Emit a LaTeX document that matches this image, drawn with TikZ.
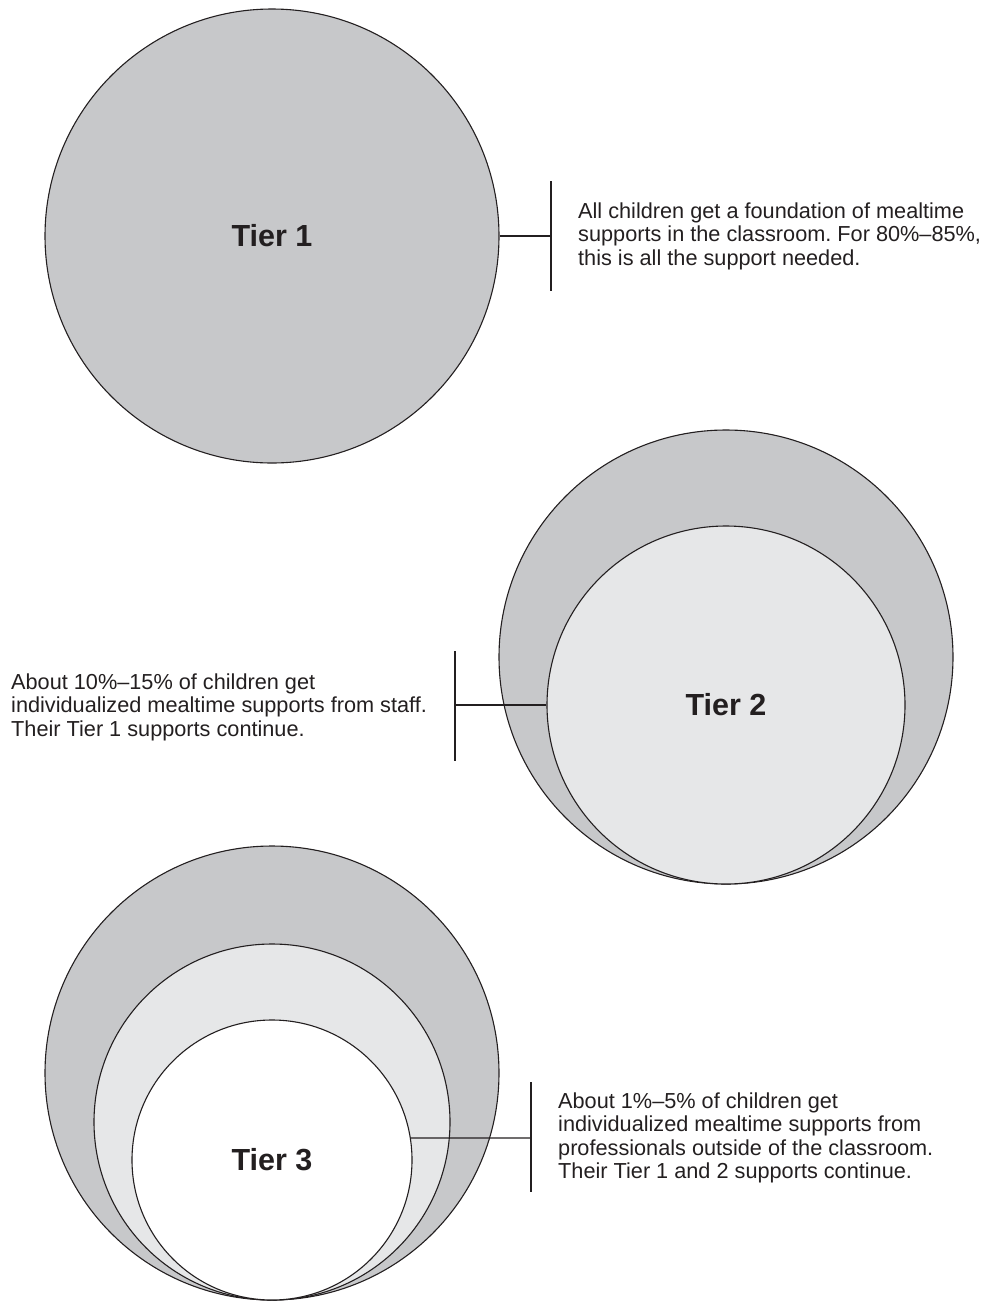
\documentclass[tikz,border=0pt]{standalone}
\usepackage{fontspec}
\setmainfont{Liberation Sans}
\frenchspacing
\definecolor{darkfill}{HTML}{C7C8CA}
\definecolor{lightfill}{HTML}{E6E7E8}
\definecolor{ink}{HTML}{231F20}
\tikzset{
  ring/.style={circle, draw=ink, line width=1.1pt, inner sep=0pt, minimum size=#1},
  tierlabel/.style={font=\fontsize{30.5}{36}\selectfont\bfseries, text=ink},
  desc/.style={anchor=west, align=left, inner sep=0pt, text=ink, font=\fontsize{21.7}{23.5}\selectfont},
  leader/.style={draw=ink, line width=1.1pt}
}
\begin{document}
\begin{tikzpicture}[x=1pt, y=-1pt]
\useasboundingbox (0,0) rectangle (986,1302);
% Tier 1
\node[ring=454pt, fill=darkfill, tierlabel] (t1) at (272,236) {Tier 1};
\coordinate (t1j) at (551,236);
\coordinate (t1a) at (551,181);
\coordinate (t1b) at (551,291);
\draw[leader] (t1.east) -- (t1j);
\draw[leader] (t1a) -- (t1b);
\node[desc] (d1) at (578,236) {All children get a foundation of mealtime\\supports in the classroom. For 80\%–85\%,\\this is all the support needed.};
% Tier 2
\node[ring=454pt, fill=darkfill] (t2out) at (726,657) {};
\node[ring=358pt, fill=lightfill, tierlabel] (t2in) at (726,705) {Tier 2};
\coordinate (t2j) at (455,705);
\coordinate (t2a) at (455,651);
\coordinate (t2b) at (455,761);
\draw[leader] (t2in.west) -- (t2j);
\draw[leader] (t2a) -- (t2b);
\node[desc] (d2) at (11,707) {About 10\%–15\% of children get\\individualized mealtime supports from staff.\\Their Tier 1 supports continue.};
% Tier 3
\node[ring=454pt, fill=darkfill] (t3out) at (272,1073) {};
\node[ring=356pt, fill=lightfill] (t3mid) at (272,1122) {};
\node[ring=280pt, fill=white, tierlabel] (t3in) at (272,1160) {Tier 3};
\coordinate (t3j) at (531,1138);
\coordinate (t3a) at (531,1082);
\coordinate (t3b) at (531,1192);
\draw[leader] (t3in.9) -- (t3j);
\draw[leader] (t3a) -- (t3b);
\node[desc] (d3) at (558,1138) {About 1\%–5\% of children get\\individualized mealtime supports from\\professionals outside of the classroom.\\Their Tier 1 and 2 supports continue.};
\end{tikzpicture}
\end{document}
